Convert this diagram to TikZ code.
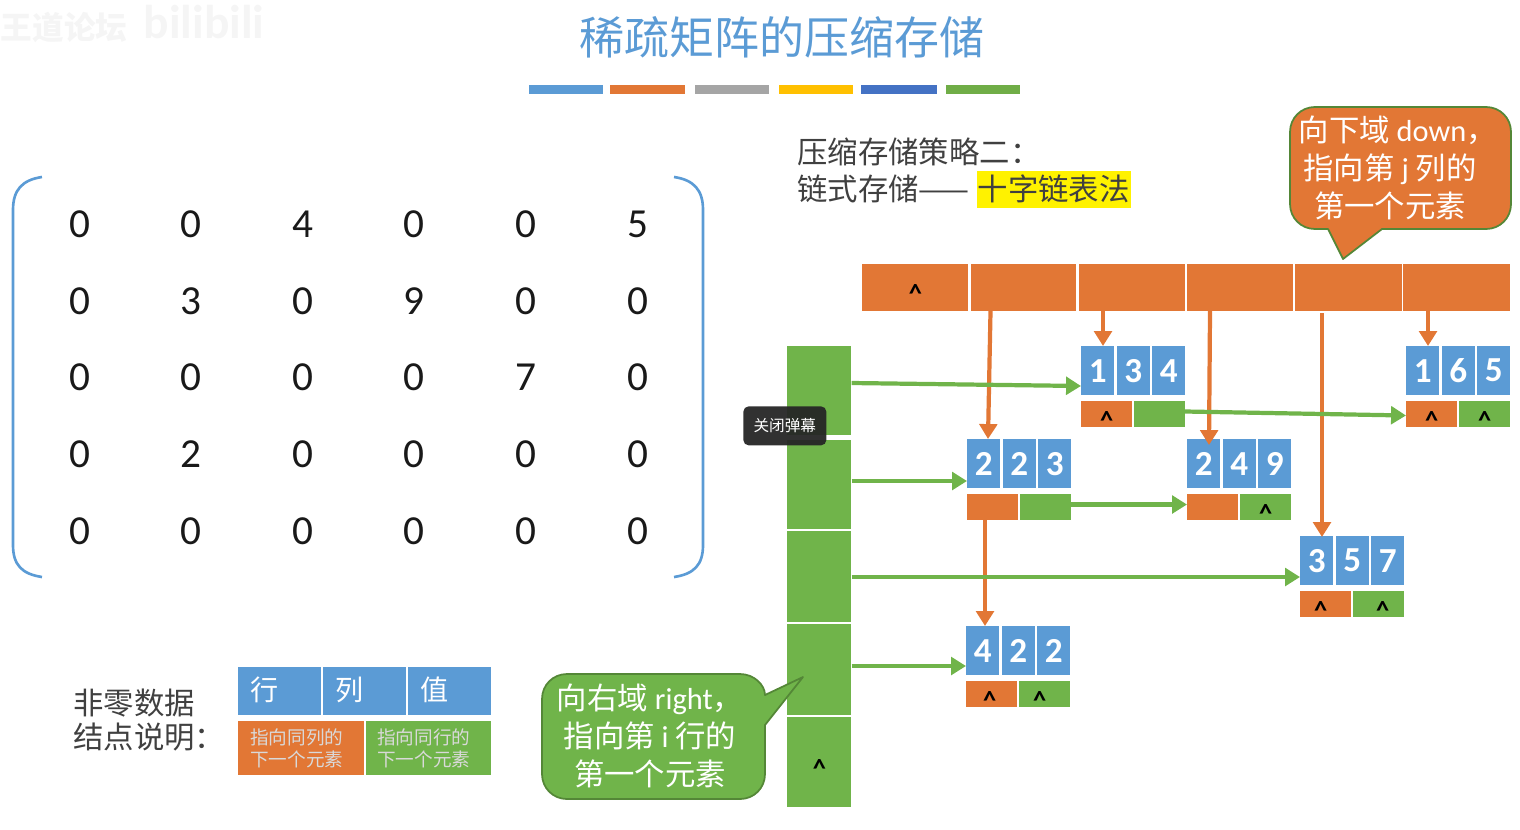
\documentclass[tikz,border=0pt]{standalone}
\usepackage{fontspec}
\setmainfont{Carlito}
\newfontfamily\cjk{Noto Sans CJK SC}
\usetikzlibrary{calc,arrows.meta}
\definecolor{cellblue}{HTML}{5B9BD5}
\definecolor{cellorange}{HTML}{E27735}
\definecolor{cellgreen}{HTML}{70B44A}
\newcommand{\nullat}[1]{\raisebox{-0.58em}[0pt][0pt]{\makebox[0pt]{\hspace*{#1pt}\textbf{\char94}}}}
\newcommand{\nullmark}{\nullat{0}}
\tikzset{
  cell/.style={anchor=north west,inner sep=0pt,text=white},
  datacell/.style={cell,fill=cellblue,minimum width=0.66cm,minimum height=0.97cm,font=\fontsize{20}{20}\selectfont\bfseries},
  downcell/.style={cell,fill=cellorange,minimum width=1.01cm,minimum height=0.52cm,text=black,font=\fontsize{15}{15}\selectfont},
  rightcell/.style={downcell,fill=cellgreen},
  headdown/.style={cell,fill=cellorange,minimum height=0.93cm,text=black,font=\fontsize{15}{15}\selectfont},
  headright/.style={cell,fill=cellgreen,minimum width=1.28cm,text=black,font=\fontsize{15}{15}\selectfont},
  downlink/.style={draw=cellorange,line width=2.4pt,-{Triangle[length=8.5pt,width=10pt]}},
  rightlink/.style={draw=cellgreen,line width=2.4pt,-{Triangle[length=8.5pt,width=10pt]}},
  matcell/.style={inner sep=0pt,font=\fontsize{23.5}{23.5}\selectfont,text=black!90},
  plaintext/.style={inner sep=0pt,anchor=west,text=black!75,font=\cjk\fontsize{17.3}{19.5}\selectfont},
  note/.style={inner sep=0pt,align=center,text=white,font=\cjk\fontsize{17.3}{21.4}\selectfont},
  smallnote/.style={inner sep=0pt,align=left,text=white!85!black,font=\cjk\fontsize{10.6}{12.5}\selectfont},
}
\begin{document}
\begin{tikzpicture}[x=0.02cm,y=-0.02cm,line join=round]
  \useasboundingbox (0,0) rectangle (1520,829);
  % 角上水印
  \node[inner sep=0pt,text=black!4,font=\cjk\fontsize{18}{18}\selectfont\bfseries] (markcn) at (64,28) {王道论坛};
  \node[inner sep=0pt,text=black!4,font=\fontsize{27}{27}\selectfont\bfseries] (markbili) at (204,22) {bilibili};
  % 标题与色条
  \node[inner sep=0pt,text=cellblue,font=\cjk\fontsize{25.6}{25.6}\selectfont] (title) at (782,37) {稀疏矩阵的压缩存储};
  \foreach \xa/\xb/\barcol in {529/603/5B9BD5, 610/685/E27735, 695/769/A5A5A5, 779/853/FFC000, 861/937/4472C4, 946/1020/70AD47} {
    \definecolor{barfill}{HTML}{\barcol}
    \fill[barfill] (\xa,85) rectangle (\xb,94);
  }
  % 矩阵与括号
  \foreach \vals [count=\i] in {{0,0,4,0,0,5},{0,3,0,9,0,0},{0,0,0,0,7,0},{0,2,0,0,0,0},{0,0,0,0,0,0}} {
    \foreach \v [count=\j] in \vals {
      \node[matcell] (m\i-\j) at ({79.5+(\j-1)*111.6},{224+(\i-1)*76.8}) {\v};
    }
  }
  \draw[cellblue,line width=1.5pt] (42,177) .. controls (22,180) and (13,190) .. (13,210) -- (13,545) .. controls (13,565) and (22,574) .. (42,577);
  \draw[cellblue,line width=1.5pt] (674,177) .. controls (694,180) and (703,190) .. (703,210) -- (703,545) .. controls (703,565) and (694,574) .. (674,577);
  % 说明文字
  \fill[yellow] (977,171) rectangle (1131,208);
  \node[plaintext] (plan) at (797,152) {压缩存储策略二：};
  \node[plaintext] (chain) at (797,189) {链式存储——\kern4.5pt 十字链表法};
  % 列头
  \foreach \x/\w/\name/\txt in {862/2.12/col1/\nullmark, 970.5/2.11/col2/{}, 1079/2.11/col3/{}, 1187/2.11/col4/{}, 1295/2.14/col5/{}, 1403/2.14/col6/{}} {
    \node[headdown,minimum width=\w cm] (\name) at (\x,264) {\txt};
  }
  % 行头
  \foreach \y/\h/\name/\txt in {346/1.78/row1/{}, 440/1.78/row2/{}, 531/1.82/row3/{}, 624/1.82/row4/{}, 717/1.80/row5/\nullmark} {
    \node[headright,minimum height=\h cm] (\name) at (787,\y) {\txt};
  }
  % 非零结点
  \foreach \name/\x/\y/\a/\b/\c/\p/\q in {n13/1081/346/1/3/4/\nullmark/{}, n16/1406/346/1/6/5/\nullmark/\nullmark, n22/967/439/2/2/3/{}/{}, n24/1187/439/2/4/9/{}/\nullmark, n35/1300/536/3/5/7/\nullat{-5.7}/\nullat{4.5}, n42/966/626/4/2/2/\nullat{-2.3}/\nullat{-5.7}} {
    \node[datacell] (\name-r) at (\x,\y) {\a};
    \node[datacell] (\name-c) at (\x+35.5,\y) {\b};
    \node[datacell] (\name-v) at (\x+71,\y) {\c};
    \node[downcell] (\name-d) at (\x,\y+54.5) {\p};
    \node[rightcell] (\name-n) at (\x+53,\y+54.5) {\q};
  }
  % 向下的链
  \draw[downlink] ($(col2.south west)+(20,0)$) -- ($(n22-r.north west)+(21,0)$);
  \draw[downlink] ($(col3.south west)+(24,0)$) -- ($(n13-r.north west)+(22,0)$);
  \draw[downlink] ($(col4.south west)+(23,0)$) -- ($(n24-r.north west)+(22,6)$);
  \draw[downlink] ($(col5.south west)+(27,2)$) -- ($(n35-r.north west)+(22,1)$);
  \draw[downlink] ($(col6.south west)+(25,0)$) -- ($(n16-r.north west)+(22,0)$);
  \draw[downlink] ($(n22-d.south west)+(18,0)$) -- ($(n42-r.north west)+(19,0)$);
  % 向右的链
  \draw[rightlink] ($(row1.north east)+(0,37)$) -- ($(n13-r.north west)+(0,40)$);
  \draw[rightlink] ($(n13-n.north east)+(0,11)$) -- ($(n16-d.north west)+(0,15)$);
  \draw[rightlink] ($(row2.north east)+(0,41)$) -- ($(n22-r.north west)+(0,42)$);
  \draw[rightlink] ($(n22-n.north east)+(0,11)$) -- ($(n24-d.north west)+(0,11)$);
  \draw[rightlink] ($(row3.north east)+(0,46)$) -- ($(n35-r.north west)+(0,41)$);
  \draw[rightlink] ($(row4.north east)+(0,42)$) -- ($(n42-r.north west)+(0,40)$);
  % 两个标注框
  \draw[fill=cellorange,draw=cellgreen!75!black,line width=1pt] (1290,132)
    .. controls (1290,118) and (1301,107) .. (1315,107) -- (1486,107)
    .. controls (1500,107) and (1511,118) .. (1511,132) -- (1511,204)
    .. controls (1511,218) and (1500,229) .. (1486,229) -- (1382,229) -- (1343,259) -- (1328,229) -- (1315,229)
    .. controls (1301,229) and (1290,218) .. (1290,204) -- cycle;
  \node[note] (downnote) at (1390,168) {向下域 {\fontspec{Carlito}down}，\kern-0.5em\\指向第 {\fontspec{Carlito}j} 列的\\第一个元素};
  \draw[fill=cellgreen,draw=cellgreen!75!black,line width=1pt] (542,699)
    .. controls (542,685) and (553,674) .. (567,674) -- (740,674)
    .. controls (754,674) and (765,685) .. (765,695) -- (803,677) -- (765,725) -- (765,774)
    .. controls (765,788) and (754,799) .. (740,799) -- (567,799)
    .. controls (553,799) and (542,788) .. (542,774) -- cycle;
  \node[note] (rightnote) at (650,736) {向右域 {\fontspec{Carlito}right}，\\指向第 {\fontspec{Carlito}i} 行的\\第一个元素};
  % 结点图例
  \node[plaintext] (legend) at (73,720) [align=left] {非零数据\\结点说明：};
  \foreach \x/\name/\txt in {238/lg-r/行, 323/lg-c/列, 408/lg-v/值} {
    \node[cell,fill=cellblue,minimum width=1.66cm,minimum height=0.96cm] (\name) at (\x,667) {};
    \node[inner sep=0pt,anchor=west,text=white,font=\cjk\fontsize{16}{16}\selectfont] (\name-t) at (\x+12,690) {\txt};
  }
  \node[cell,fill=cellorange,minimum width=2.52cm,minimum height=1.08cm] (lg-d) at (238,721) {};
  \node[cell,fill=cellgreen,minimum width=2.5cm,minimum height=1.08cm] (lg-n) at (366,721) {};
  \node[smallnote,anchor=west] (lg-dt) at (250,748) {指向同列的\\下一个元素};
  \node[smallnote,anchor=west] (lg-nt) at (377,748) {指向同行的\\下一个元素};
  % 播放器浮层
  \node[anchor=north west,inner sep=0pt,fill=black!85,fill opacity=0.95,text opacity=1,rounded corners=3pt,minimum width=1.66cm,minimum height=0.78cm,text=white,font=\cjk\fontsize{8.9}{8.9}\selectfont] (danmu) at (743,406) {关闭弹幕};
\end{tikzpicture}
\end{document}
